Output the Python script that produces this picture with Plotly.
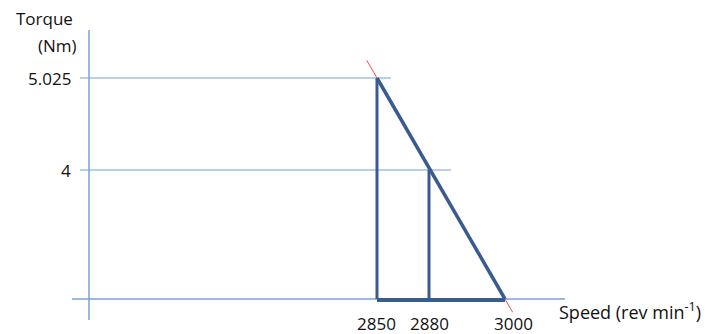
import plotly.graph_objects as go

# ---- data ----
speed_values = [2850, 2880, 3000]          # rev/min
speed_labels = ["2850", "2880", "3000"]
torque_values = [5.025, 4.0, 0.0]          # Nm at each speed
torque_labels = ["5.025", "4"]

# The reference is a schematic that is not drawn to scale: each labelled
# value sits at its own place along the (broken) axes, measured from the origin.
speed_scale = {2850: 288, 2880: 340, 3000: 416}
torque_scale = {5.025: 221, 4.0: 129, 0.0: 0}

sx = [speed_scale[v] for v in speed_values]
ty = [torque_scale[v] for v in torque_values]

AXIS = "#7B9FD6"
BLUE = "#3A5B91"
RED = "#FF4A4A"
FONT = "Open Sans"
TXT = "#111111"
FS = 17

fig = go.Figure()

def seg(x, y, color, width):
    fig.add_trace(go.Scatter(x=x, y=y, mode="lines",
                             line=dict(color=color, width=width),
                             hoverinfo="skip", showlegend=False))

# axes (schematic)
seg([0, 0], [-21, 269], AXIS, 1.5)
seg([-17, 476], [0, 0], AXIS, 1.5)
# reference lines at the torque values
seg([-9, sx[0] + 14], [ty[0], ty[0]], AXIS, 1.2)
seg([-9, sx[1] + 22], [ty[1], ty[1]], AXIS, 1.2)

# red extension of the characteristic line
dx, dy = sx[2] - sx[0], ty[2] - ty[0]
t0, t1 = -0.08, 1.06
seg([sx[0] + t0 * dx, sx[0] + t1 * dx], [ty[0] + t0 * dy, ty[0] + t1 * dy], RED, 1)

# blue characteristic + construction lines
seg([sx[0], sx[0]], [ty[0], 0], BLUE, 3)
seg([sx[1], sx[1]], [ty[1], 0], BLUE, 3)
seg([sx[0], sx[2]], [-1, -1], BLUE, 4)
seg([sx[0], sx[2]], [ty[0], ty[2]], BLUE, 3.5)

ann = []
# torque tick labels
for v, lab in zip(torque_values[:2], torque_labels):
    ann.append(dict(x=-16, y=torque_scale[v], text=lab, xanchor="right",
                    yanchor="middle", showarrow=False,
                    font=dict(family=FONT, size=FS, color=TXT)))
# speed tick labels
offs = {2850: (-1, -24), 2880: (0, -24), 3000: (8, -24)}
for v, lab in zip(speed_values, speed_labels):
    ox, oy = offs[v]
    ann.append(dict(x=speed_scale[v] + ox, y=oy, text=lab, xanchor="center",
                    yanchor="middle", showarrow=False,
                    font=dict(family=FONT, size=FS, color=TXT)))
# axis titles
ann.append(dict(x=-45, y=281, text="Torque", xanchor="center", yanchor="middle",
                showarrow=False, font=dict(family=FONT, size=FS, color=TXT)))
ann.append(dict(x=-32, y=254, text="(Nm)", xanchor="center", yanchor="middle",
                showarrow=False, font=dict(family=FONT, size=FS, color=TXT)))
ann.append(dict(x=468, y=-12, text="Speed (rev min<sup>-1</sup>)", xanchor="left",
                yanchor="middle", showarrow=False,
                font=dict(family=FONT, size=18, color=TXT)))

fig.update_layout(
    width=712, height=334,
    margin=dict(l=0, r=0, t=0, b=0),
    paper_bgcolor="white", plot_bgcolor="white",
    xaxis=dict(range=[-81, 631], visible=False, fixedrange=True),
    yaxis=dict(range=[-43, 291], visible=False, fixedrange=True),
    annotations=ann,
)

fig.write_html("out.html")
